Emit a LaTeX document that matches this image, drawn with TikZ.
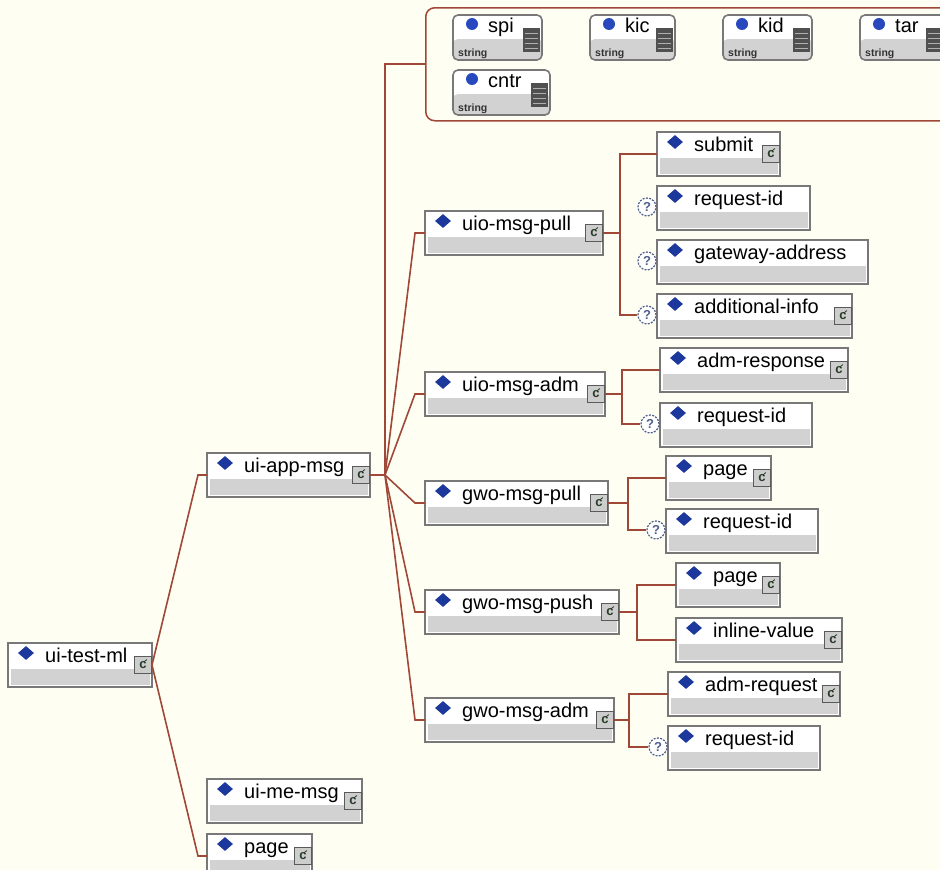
\documentclass[tikz,border=0pt]{standalone}
\usepackage{fontspec}
\setmainfont{Liberation Sans}
\usetikzlibrary{shapes.geometric}

\definecolor{bgcream}{RGB}{254,254,242}
\definecolor{connred}{RGB}{160,72,56}
\definecolor{boxgray}{RGB}{120,120,120}
\definecolor{stripgray}{RGB}{210,210,210}
\definecolor{diamblue}{RGB}{28,56,156}
\definecolor{dotblue}{RGB}{40,72,190}
\definecolor{icongray}{RGB}{90,90,90}
\definecolor{iconfill}{RGB}{205,205,205}
\definecolor{icontext}{RGB}{40,60,40}
\definecolor{qblue}{RGB}{80,96,140}
\definecolor{listdark}{RGB}{80,80,80}
\definecolor{listlight}{RGB}{175,175,175}

% element box with a diamond and its name
\newcommand\xleaf[5]{%
  \node[ebox, minimum width=#4pt] (#1) at (#2,#3) {};
  \node[diam] (#1-d) at ([xshift=18pt,yshift=-10pt]#1.north west) {};
  \node[etext] (#1-t) at ([xshift=37pt,yshift=-19pt]#1.north west) {#5};
}
% element box with complex-content icon
\newcommand\xelem[5]{%
  \xleaf{#1}{#2}{#3}{#4}{#5}%
  \node[cicon] (#1-i) at (#1.east) {c};
}
% optional marker left of an element
\newcommand\xopt[1]{%
  \node[qmark] (#1-q) at ([xshift=-10pt,yshift=-21pt]#1.north west) {?};
}
% attribute box
\newcommand\xattr[5]{%
  \node[abox, minimum width=#4pt] (#1) at (#2,#3) {};
  \node[adot] (#1-d) at ([xshift=19pt,yshift=-9pt]#1.north west) {};
  \node[atext] (#1-t) at ([xshift=35pt,yshift=-17pt]#1.north west) {#5};
  \node[atype] (#1-s) at ([xshift=5pt,yshift=-41pt]#1.north west) {string};
  \node[alist] (#1-l) at ([xshift=-2pt,yshift=-13pt]#1.north east) {};
}
% bracket from a parent's icon to its first and last child
\newcommand\xfork[4]{%
  \coordinate (#1-j) at ([xshift=#2pt]#1-i.east);
  \draw[conn] (#1-i.east) -- (#1-j);
  \draw[conn] (#3) -| (#1-j) |- (#4);
}

\begin{document}
\begin{tikzpicture}[x=1pt,y=-1pt,
  conn/.style={draw=connred, line width=1.6pt},
  ebox/.style={rectangle, draw=boxgray, line width=1.8pt, fill=white,
    minimum height=44pt, inner sep=0pt, outer sep=0pt, anchor=north west,
    path picture={\fill[stripgray]
      ([xshift=2.5pt,yshift=2.5pt]path picture bounding box.south west) rectangle
      ([xshift=-2.5pt,yshift=-26pt]path picture bounding box.north east);}},
  diam/.style={diamond, fill=diamblue, inner sep=0pt, minimum width=16pt, minimum height=14pt},
  etext/.style={anchor=base west, inner sep=0pt, font=\fontsize{20}{24}\selectfont},
  cicon/.style={rectangle, anchor=east, draw=icongray, fill=iconfill, line width=1.2pt,
    minimum size=17pt, inner sep=0pt, text=icontext,
    font=\fontsize{13}{13}\selectfont\bfseries,
    path picture={\draw[icontext, line width=0.8pt]
      ([xshift=1pt,yshift=3pt]path picture bounding box.center) -- ++(3pt,2.5pt);}},
  qmark/.style={circle, draw=qblue, line width=1.2pt, dash pattern=on 2pt off 1.3pt,
    fill=white, minimum size=18pt, inner sep=0pt, text=qblue,
    font=\fontsize{13}{13}\selectfont\bfseries},
  agroup/.style={rectangle, rounded corners=9pt, draw=connred, line width=1.5pt,
    fill=bgcream, minimum height=113pt, anchor=north west, inner sep=0pt},
  abox/.style={rectangle, rounded corners=5pt, draw=boxgray, line width=1.6pt, fill=white,
    minimum height=45pt, inner sep=0pt, outer sep=0pt, anchor=north west,
    path picture={\fill[stripgray]
      (path picture bounding box.south west) rectangle
      ([yshift=-24pt]path picture bounding box.north east);}},
  adot/.style={circle, fill=dotblue, minimum size=12pt, inner sep=0pt},
  atext/.style={anchor=base west, inner sep=0pt, font=\fontsize{20}{24}\selectfont},
  atype/.style={anchor=base west, inner sep=0pt, text=black!80,
    font=\fontsize{10.5}{12}\selectfont\bfseries},
  alist/.style={rectangle, anchor=north east, fill=listdark, minimum width=17pt,
    minimum height=24pt, inner sep=0pt,
    path picture={\foreach \k in {5,10,15,20}
      \draw[listlight, line width=1pt]
        ([xshift=2pt,yshift=-\k pt]path picture bounding box.north west) --
        ([xshift=-2pt,yshift=-\k pt]path picture bounding box.north east);}}
]
\clip (0,0) rectangle (940,870);
\fill[bgcream] (0,0) rectangle (940,870);

% attribute group
\node[agroup, minimum width=560pt] (attrs) at (425,7) {};
\xattr{spi}{453}{15}{89}{spi}
\xattr{kic}{590}{15}{85}{kic}
\xattr{kid}{723}{15}{89}{kid}
\xattr{tar}{860}{15}{85}{tar}
\xattr{cntr}{453}{70}{97}{cntr}

% elements
\xelem{uitest}{8}{643}{144}{ui-test-ml}
\xelem{uiapp}{207}{453}{163}{ui-app-msg}
\xelem{uime}{207}{779}{155}{ui-me-msg}
\xelem{page0}{207}{834}{105}{page}

\xelem{uiomp}{425}{211}{178}{uio-msg-pull}
\xelem{uioma}{425}{372}{180}{uio-msg-adm}
\xelem{gwomp}{425}{481}{183}{gwo-msg-pull}
\xelem{gwomh}{425}{590}{194}{gwo-msg-push}
\xelem{gwoma}{425}{698}{189}{gwo-msg-adm}

\xelem{submit}{657}{132}{123}{submit}
\xleaf{rid1}{657}{186}{153}{request-id}
\xleaf{gwaddr}{657}{240}{211}{gateway-address}
\xelem{addinfo}{657}{294}{195}{additional-info}
\xelem{admresp}{660}{348}{188}{adm-response}
\xleaf{rid2}{660}{403}{152}{request-id}
\xelem{page1}{666}{456}{105}{page}
\xleaf{rid3}{666}{509}{152}{request-id}
\xelem{page2}{676}{563}{104}{page}
\xelem{inlval}{676}{618}{166}{inline-value}
\xelem{admreq}{668}{672}{172}{adm-request}
\xleaf{rid4}{668}{726}{152}{request-id}

\xopt{rid1}
\xopt{gwaddr}
\xopt{addinfo}
\xopt{rid2}
\xopt{rid3}
\xopt{rid4}

% connectors from the root
\draw[conn] (uitest-i.east) -- ([xshift=-9pt]uiapp.west) -- (uiapp.west);
\draw[conn] (uitest-i.east) -- ([xshift=-9pt]page0.west) -- (page0.west);

% connectors from ui-app-msg
\coordinate (appj) at ([xshift=15pt]uiapp-i.east);
\draw[conn] (uiapp-i.east) -- (appj);
\draw[conn] (appj) |- (attrs.west);
\foreach \c in {uiomp,uioma,gwomp,gwomh,gwoma}
  \draw[conn] (appj) -- ([xshift=-10pt]\c.west) -- (\c.west);

% brackets to the leaf elements
\xfork{uiomp}{17}{submit.west}{addinfo-q.west}
\xfork{uioma}{17}{admresp.west}{rid2-q.west}
\xfork{gwomp}{20}{page1.west}{rid3-q.west}
\xfork{gwomh}{18}{page2.west}{inlval.west}
\xfork{gwoma}{15}{admreq.west}{rid4-q.west}
\end{tikzpicture}
\end{document}
